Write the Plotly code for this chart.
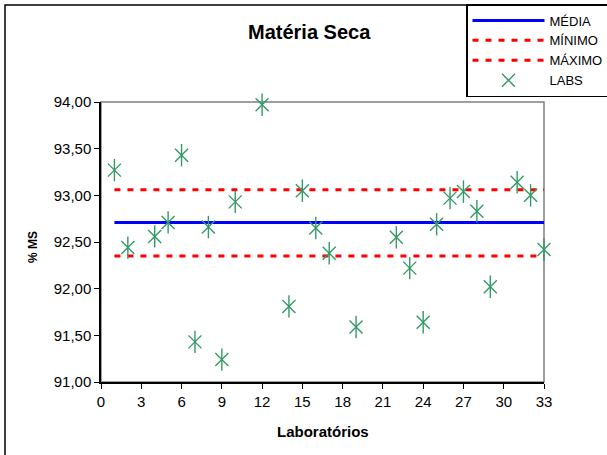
import plotly.graph_objects as go

# laboratorios participantes e resultado de % MS
labs = [1, 2, 4, 5, 6, 7, 8, 9, 10, 12, 14, 15, 16, 17, 19, 22, 23, 24, 25, 26, 27, 28, 29, 31, 32, 33]
ms = [93.27, 92.44, 92.56, 92.71, 93.43, 91.43, 92.66, 91.24, 92.93, 93.97, 91.81, 93.05, 92.65,
      92.38, 91.59, 92.55, 92.22, 91.64, 92.69, 92.97, 93.04, 92.83, 92.02, 93.14, 93.00, 92.42]

media = 92.71
minimo = 92.35
maximo = 93.06

x_ticks = [0, 3, 6, 9, 12, 15, 18, 21, 24, 27, 30, 33]
y_ticks = [91.0, 91.5, 92.0, 92.5, 93.0, 93.5, 94.0]

W, H = 607, 455
L, T = 101, 102
pw, ph = 443, 280
R, B = W - L - pw, H - T - ph


def px_x(p):
    return (p - L) / pw


def px_y(p):
    return (T + ph - p) / ph


span = [labs[0], labs[-1]]
green = "#339966"

fig = go.Figure()
fig.add_trace(go.Scatter(x=span, y=[media, media], mode="lines", name="MÉDIA",
                         line=dict(color="#0000FF", width=3)))
fig.add_trace(go.Scatter(x=span, y=[minimo, minimo], mode="lines", name="MÍNIMO",
                         line=dict(color="#FF0000", width=3, dash="6px,7px")))
fig.add_trace(go.Scatter(x=span, y=[maximo, maximo], mode="lines", name="MÁXIMO",
                         line=dict(color="#FF0000", width=3, dash="6px,7px")))
# asterisco do Excel = X + traço vertical
fig.add_trace(go.Scatter(x=labs, y=ms, mode="markers", name="LABS", legendgroup="labs",
                         cliponaxis=False,
                         marker=dict(symbol="x-thin-open", size=13, color=green,
                                     line=dict(color=green, width=1.4))))
fig.add_trace(go.Scatter(x=labs, y=ms, mode="markers", name="LABS", legendgroup="labs",
                         showlegend=False, cliponaxis=False,
                         marker=dict(symbol="line-ns-open", size=16, color=green,
                                     line=dict(color=green, width=1.4))))

font = "Liberation Sans, Arial, sans-serif"

fig.update_layout(
    width=W, height=H,
    margin=dict(l=L, r=R, t=T, b=B, autoexpand=False),
    paper_bgcolor="white", plot_bgcolor="white",
    separators=",.",
    font=dict(family=font, size=15, color="black"),
    showlegend=True,
    legend=dict(x=px_x(466), y=px_y(4), xanchor="left", yanchor="top",
                bordercolor="black", borderwidth=1.5, bgcolor="white",
                font=dict(size=13), tracegroupgap=0, itemwidth=72),
    annotations=[
        dict(text="<b>Matéria Seca</b>", x=px_x(309), y=px_y(32), xref="paper", yref="paper",
             showarrow=False, font=dict(size=20), xanchor="center", yanchor="middle"),
        dict(text="<b>% MS</b>", x=px_x(33), y=px_y(247), xref="paper", yref="paper",
             showarrow=False, font=dict(size=12), textangle=-90, xanchor="center", yanchor="middle"),
        dict(text="<b>Laboratórios</b>", x=0.5, y=px_y(431), xref="paper", yref="paper",
             showarrow=False, font=dict(size=15), xanchor="center", yanchor="middle"),
    ],
    shapes=[
        dict(type="rect", xref="paper", yref="paper", x0=0, x1=1, y0=0, y1=1,
             line=dict(color="#808080", width=1.5), layer="below"),
        dict(type="rect", xref="paper", yref="paper", x0=px_x(5), x1=px_x(640), y0=px_y(470), y1=px_y(5),
             line=dict(color="black", width=1.5), layer="below"),
    ],
)

fig.update_xaxes(range=[0, 33], tickvals=x_ticks, showgrid=False, zeroline=False,
                 showline=True, linecolor="black", linewidth=1.5,
                 ticks="outside", ticklen=5, tickcolor="black", tickfont=dict(size=15))
fig.update_yaxes(range=[91, 94], tickvals=y_ticks, tickformat=".2f", showgrid=False, zeroline=False,
                 showline=True, linecolor="black", linewidth=1.5,
                 ticks="outside", ticklen=5, tickcolor="black", tickfont=dict(size=15))

# tira a margem padrao do body para o grafico ocupar a janela inteira
fig.write_html("out.html", config={"displayModeBar": False},
               post_script="document.body.style.margin = '0';")
